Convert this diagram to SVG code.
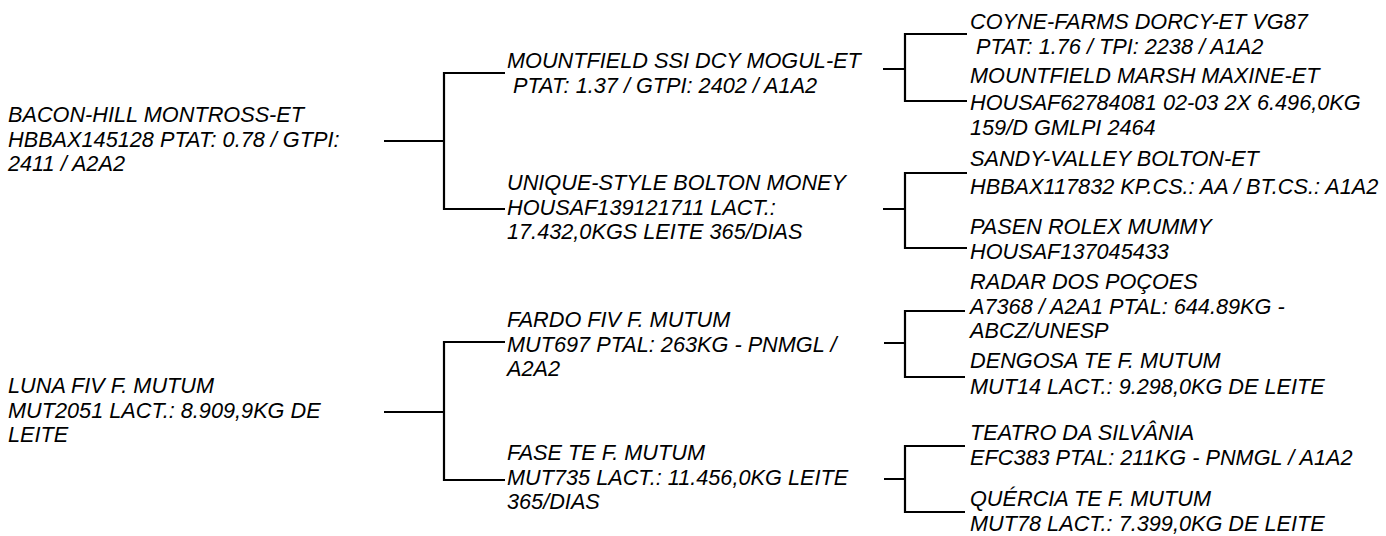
<svg xmlns="http://www.w3.org/2000/svg" width="1386" height="536" viewBox="0 0 1386 536">
<style>
text{font-family:"Liberation Sans",Arial,sans-serif;font-size:21.7px;font-style:italic;fill:#000}
.c{fill:none;stroke:#000;stroke-width:2.2}
</style>
<rect width="1386" height="536" fill="#fff"/>
<g id="connectors">
<path class="c" d="M384,141H444M505,73H444V209H505"/>
<path class="c" d="M384,412H444M505,342H444V480H505"/>
<path class="c" d="M883,69H905M967,34H905V101H967"/>
<path class="c" d="M883,209H905M967,173H905V248H967"/>
<path class="c" d="M884,343H905M965,311H905V377H965"/>
<path class="c" d="M884,479H905M965,446H905V512H965"/>
</g>
<g id="n-bacon"><text x="8" y="122">BACON-HILL MONTROSS-ET<tspan x="8" y="146.5">HBBAX145128 PTAT: 0.78 / GTPI:</tspan><tspan x="8" y="171">2411 / A2A2</tspan></text></g>
<g id="n-luna"><text x="8" y="393">LUNA FIV F. MUTUM<tspan x="8" y="417.5">MUT2051 LACT.: 8.909,9KG DE</tspan><tspan x="8" y="442">LEITE</tspan></text></g>
<g id="n-mogul"><text x="507" y="68">MOUNTFIELD SSI DCY MOGUL-ET<tspan x="513" y="92.5">PTAT: 1.37 / GTPI: 2402 / A1A2</tspan></text></g>
<g id="n-unique"><text x="507" y="190">UNIQUE-STYLE BOLTON MONEY<tspan x="507" y="214.5">HOUSAF139121711 LACT.:</tspan><tspan x="507" y="239">17.432,0KGS LEITE 365/DIAS</tspan></text></g>
<g id="n-fardo"><text x="507" y="327">FARDO FIV F. MUTUM<tspan x="507" y="351.5">MUT697 PTAL: 263KG - PNMGL /</tspan><tspan x="507" y="376">A2A2</tspan></text></g>
<g id="n-fase"><text x="507" y="460">FASE TE F. MUTUM<tspan x="507" y="484.5">MUT735 LACT.: 11.456,0KG LEITE</tspan><tspan x="507" y="509">365/DIAS</tspan></text></g>
<g id="n-coyne"><text x="970" y="29">COYNE-FARMS DORCY-ET VG87<tspan x="976" y="53.5">PTAT: 1.76 / TPI: 2238 / A1A2</tspan></text></g>
<g id="n-maxine"><text x="970" y="83">MOUNTFIELD MARSH MAXINE-ET<tspan x="970" y="109.5">HOUSAF62784081 02-03 2X 6.496,0KG</tspan><tspan x="970" y="135">159/D GMLPI 2464</tspan></text></g>
<g id="n-sandy"><text x="970" y="166">SANDY-VALLEY BOLTON-ET<tspan x="970" y="194">HBBAX117832 KP.CS.: AA / BT.CS.: A1A2</tspan></text></g>
<g id="n-pasen"><text x="970" y="234">PASEN ROLEX MUMMY<tspan x="970" y="258.5">HOUSAF137045433</tspan></text></g>
<g id="n-radar"><text x="970" y="289">RADAR DOS POÇOES<tspan x="970" y="313.5">A7368 / A2A1 PTAL: 644.89KG -</tspan><tspan x="970" y="338">ABCZ/UNESP</tspan></text></g>
<g id="n-dengosa"><text x="970" y="368">DENGOSA TE F. MUTUM<tspan x="970" y="393.5">MUT14 LACT.: 9.298,0KG DE LEITE</tspan></text></g>
<g id="n-teatro"><text x="970" y="440">TEATRO DA SILVÂNIA<tspan x="970" y="464.5">EFC383 PTAL: 211KG - PNMGL / A1A2</tspan></text></g>
<g id="n-quercia"><text x="970" y="506">QUÉRCIA TE F. MUTUM<tspan x="970" y="530.5">MUT78 LACT.: 7.399,0KG DE LEITE</tspan></text></g>
</svg>
